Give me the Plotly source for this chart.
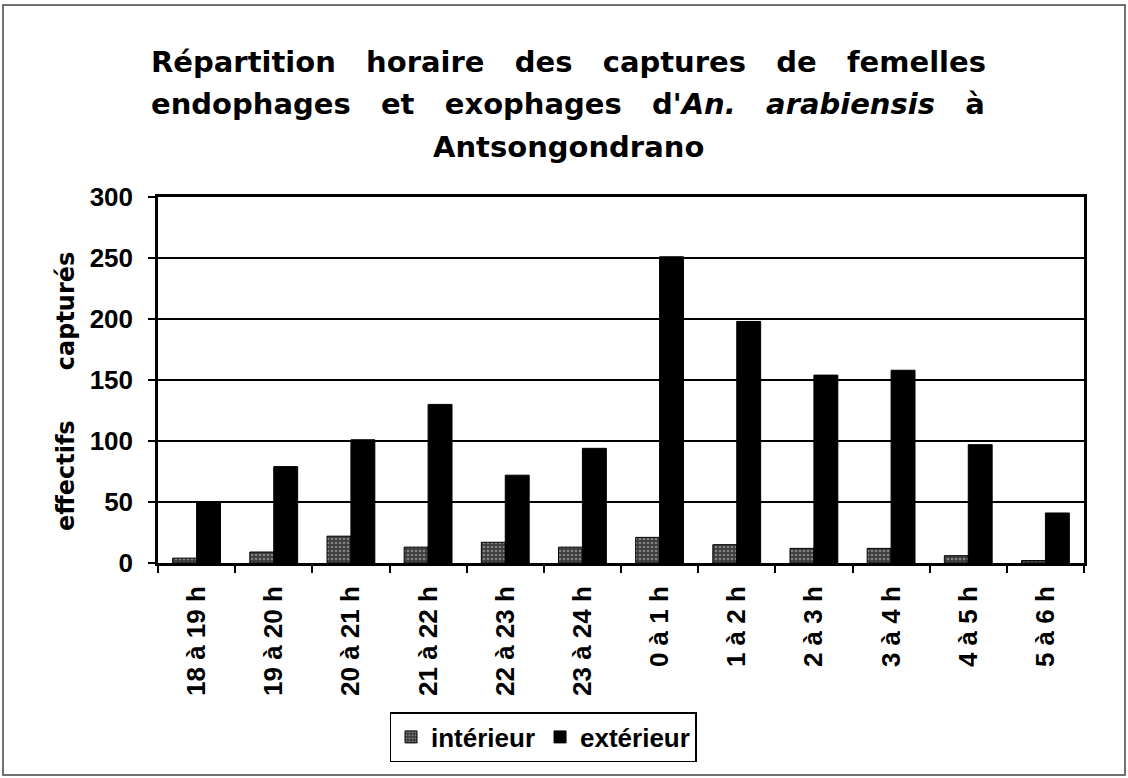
import plotly.graph_objects as go

categories = ["18 à 19 h", "19 à 20 h", "20 à 21 h", "21 à 22 h", "22 à 23 h", "23 à 24 h",
              "0 à 1 h", "1 à 2 h", "2 à 3 h", "3 à 4 h", "4 à 5 h", "5 à 6 h"]
interieur = [4, 9, 22, 13, 17, 13, 21, 15, 12, 12, 6, 2]
exterieur = [50, 79, 101, 130, 72, 94, 251, 198, 154, 158, 97, 41]
y_ticks = [0, 50, 100, 150, 200, 250, 300]

FONT = "Liberation Sans"
WIDE = "DejaVu Sans"
NB = "\u00a0"

fig = go.Figure()
fig.add_trace(go.Bar(
    x=categories, y=interieur, name="intérieur",
    marker=dict(color="#505050", line=dict(color="black", width=1),
                pattern=dict(shape=".", fgcolor="#c8c8c8", bgcolor="#3c3c3c", size=4, solidity=0.35)),
))
fig.add_trace(go.Bar(
    x=categories, y=exterieur, name="extérieur",
    marker=dict(color="black", line=dict(color="black", width=1)),
))

L, R, T, B = 158, 44, 197, 215
W, H = 1128, 778
pw, ph = W - L - R, H - T - B

def px(x):
    return (x - L) / pw

def py(y):
    return (H - B - y) / ph

gap1 = NB * 2 + " "
line1 = gap1.join(["Répartition", "horaire", "des", "captures", "de", "femelles"])
line2 = gap1.join(["endophages", "et", "exophages", "d'<i>An.</i>", "<i>arabiensis</i>", "à"])
line3 = "Antsongondrano"

annotations = []
for txt, ypix in [(line1, 62), (line2, 104), (line3, 147)]:
    annotations.append(dict(
        text="<b>" + txt + "</b>", x=px(568), y=py(ypix), xref="paper", yref="paper",
        xanchor="center", yanchor="middle", showarrow=False,
        font=dict(family=WIDE, size=29, color="black"),
    ))

annotations.append(dict(
    text="<b>effectifs" + NB * 5 + " capturés</b>", x=px(66), y=py(392), xref="paper", yref="paper",
    xanchor="center", yanchor="middle", showarrow=False, textangle=-90,
    font=dict(family=WIDE, size=24, color="black"),
))

fig.update_layout(
    width=W, height=H,
    margin=dict(l=L, r=R, t=T, b=B, autoexpand=False),
    paper_bgcolor="white", plot_bgcolor="white",
    barmode="group", bargap=0.38, bargroupgap=0.0,
    font=dict(family=FONT, color="black"),
    showlegend=True,
    legend=dict(
        orientation="h", x=px(543), y=py(737), xanchor="center", yanchor="middle",
        bgcolor="white", bordercolor="black", borderwidth=1.5,
        font=dict(family=FONT, size=26, color="black", weight="bold"),
        itemwidth=30, traceorder="normal",
    ),
    annotations=annotations,
    shapes=[dict(type="rect", xref="paper", yref="paper",
                 x0=px(3), x1=px(1125), y0=py(775), y1=py(5),
                 line=dict(color="#444444", width=1.5), layer="below")],
)

fig.update_xaxes(
    type="category", showline=True, linecolor="black", linewidth=2.5, mirror=True,
    ticks="outside", ticklen=7, tickwidth=1.5, tickcolor="black", tickson="boundaries",
    tickangle=-90, tickfont=dict(family=FONT, size=26, color="black", weight="bold"),
    ticklabelstandoff=10, showgrid=False, fixedrange=True,
)
fig.update_yaxes(
    range=[0, 300], tickvals=y_ticks, ticktext=[str(v) for v in y_ticks],
    showline=True, linecolor="black", linewidth=2.5, mirror=True,
    ticks="outside", ticklen=7, tickwidth=1.5, tickcolor="black",
    tickfont=dict(family=FONT, size=26, color="black", weight="bold"),
    showgrid=True, gridcolor="black", gridwidth=1.8, zeroline=False,
    ticklabelstandoff=10,
)

fig.write_html("out.html", config={"displayModeBar": False},
               post_script="document.body.style.margin='0px';")
